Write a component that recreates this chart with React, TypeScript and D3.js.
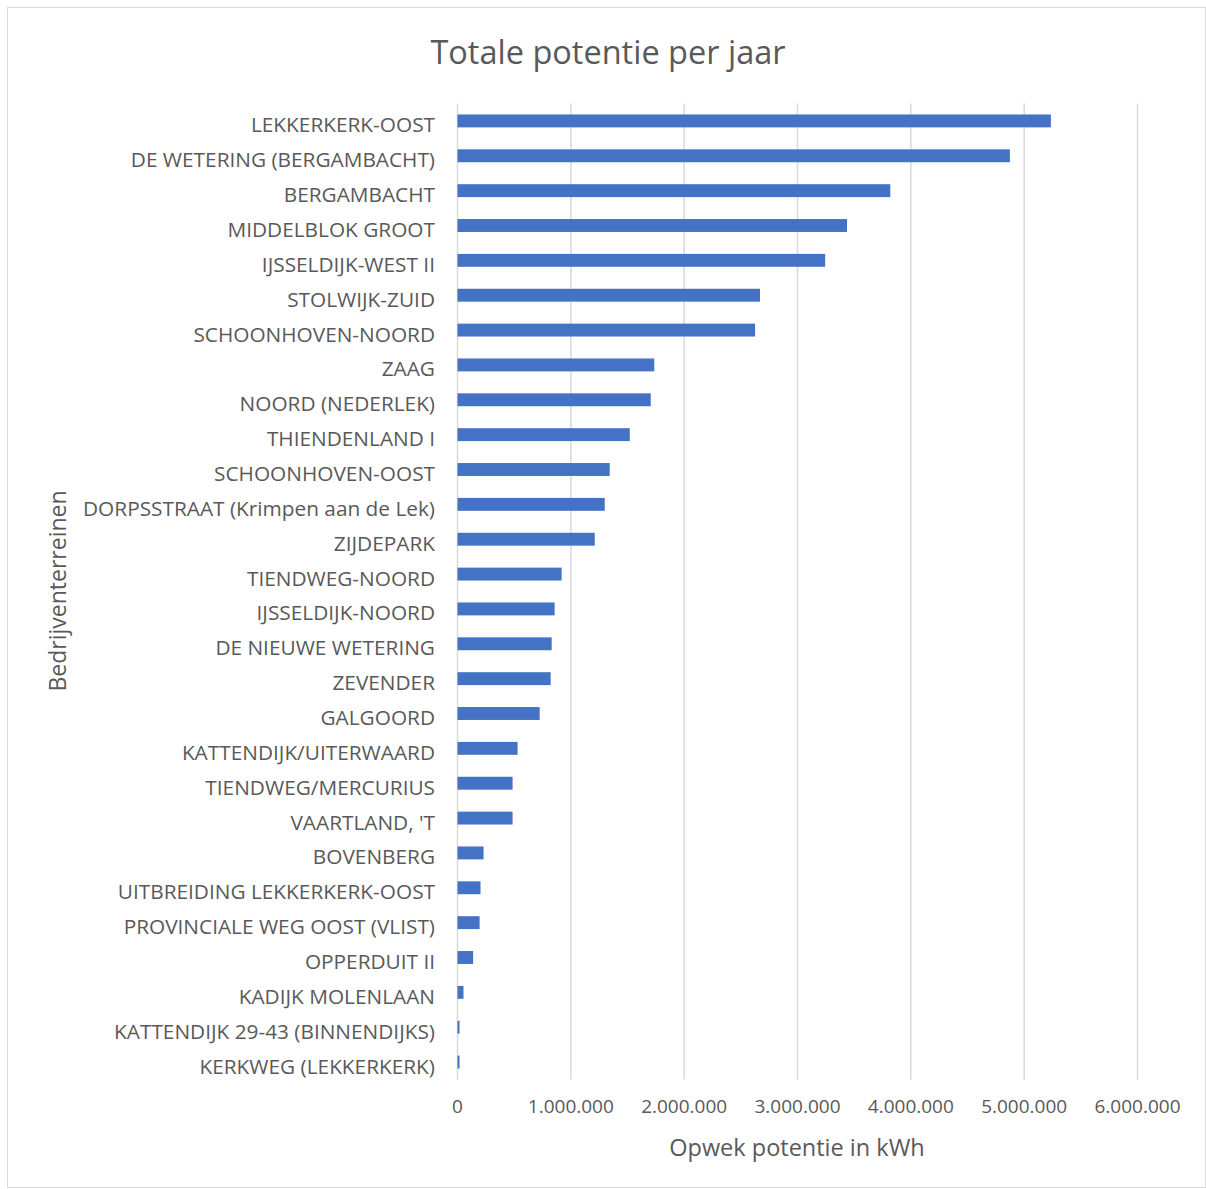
import React from "react";
import * as d3 from "d3";

const categories = [
  "LEKKERKERK-OOST",
  "DE WETERING (BERGAMBACHT)",
  "BERGAMBACHT",
  "MIDDELBLOK GROOT",
  "IJSSELDIJK-WEST II",
  "STOLWIJK-ZUID",
  "SCHOONHOVEN-NOORD",
  "ZAAG",
  "NOORD (NEDERLEK)",
  "THIENDENLAND I",
  "SCHOONHOVEN-OOST",
  "DORPSSTRAAT (Krimpen aan de Lek)",
  "ZIJDEPARK",
  "TIENDWEG-NOORD",
  "IJSSELDIJK-NOORD",
  "DE NIEUWE WETERING",
  "ZEVENDER",
  "GALGOORD",
  "KATTENDIJK/UITERWAARD",
  "TIENDWEG/MERCURIUS",
  "VAARTLAND, 'T",
  "BOVENBERG",
  "UITBREIDING LEKKERKERK-OOST",
  "PROVINCIALE WEG OOST (VLIST)",
  "OPPERDUIT II",
  "KADIJK MOLENLAAN",
  "KATTENDIJK 29-43 (BINNENDIJKS)",
  "KERKWEG (LEKKERKERK)",
];

const values = [
  5236000, 4874000, 3819000, 3437000, 3244000, 2669000, 2626000, 1736000,
  1705000, 1520000, 1343000, 1299000, 1211000, 919000, 857000, 831000,
  822000, 725000, 530000, 486000, 486000, 230000, 203000, 195000, 138000,
  53000, 18000, 18000,
];

const xTicks = [0, 1000000, 2000000, 3000000, 4000000, 5000000, 6000000];

const title = "Totale potentie per jaar";
const xTitle = "Opwek potentie in kWh";
const yTitle = "Bedrijventerreinen";

const fmt = (v: number) =>
  v === 0 ? "0" : d3.format(",")(v).replace(/,/g, ".");

export default function App() {
  const W = 1206;
  const H = 1189;
  const left = 457.5;
  const right = 1137.5;
  const top = 103.5;
  const bottom = 1079.5;
  const font = "'Open Sans', 'Noto Sans', sans-serif";
  const textColor = "#595959";

  const x = d3.scaleLinear().domain([0, 6000000]).range([left, right]);
  const y = d3
    .scaleBand<string>()
    .domain(categories)
    .range([top, bottom])
    .paddingInner(0.63)
    .paddingOuter(0.315);

  return (
    <svg
      width={W}
      height={H}
      style={{ position: "absolute", left: 0, top: 0, background: "#fff" }}
    >
      <rect
        x={7.5}
        y={7.5}
        width={1198}
        height={1180}
        fill="#fff"
        stroke="#d9d9d9"
        strokeWidth={1}
      />
      <text
        x={608}
        y={64}
        textAnchor="middle"
        fontFamily={font}
        fontSize={32.5}
        fill={textColor}
      >
        {title}
      </text>
      {xTicks.map((t) => (
        <line
          key={"g" + t}
          x1={x(t)}
          x2={x(t)}
          y1={top}
          y2={bottom}
          stroke="#d9d9d9"
          strokeWidth={1.5}
        />
      ))}
      {categories.map((c, i) => (
        <rect
          key={"b" + c}
          x={x(0)}
          y={y(c)!}
          width={x(values[i]) - x(0)}
          height={y.bandwidth()}
          fill="#4472C4"
        />
      ))}
      {categories.map((c) => (
        <text
          key={"l" + c}
          x={435}
          y={y(c)! + y.bandwidth() / 2 + 11.5}
          textAnchor="end"
          fontFamily={font}
          fontSize={20.8}
          fill={textColor}
        >
          {c}
        </text>
      ))}
      {xTicks.map((t) => (
        <text
          key={"t" + t}
          x={x(t)}
          y={1106}
          dy="0.35em"
          textAnchor="middle"
          fontFamily={font}
          fontSize={19}
          fill={textColor}
        >
          {fmt(t)}
        </text>
      ))}
      <text
        x={797}
        y={1148}
        dy="0.35em"
        textAnchor="middle"
        fontFamily={font}
        fontSize={23.5}
        fill={textColor}
      >
        {xTitle}
      </text>
      <text
        transform={`translate(58,591) rotate(-90)`}
        dy="0.35em"
        textAnchor="middle"
        fontFamily={font}
        fontSize={23}
        fill={textColor}
      >
        {yTitle}
      </text>
    </svg>
  );
}
